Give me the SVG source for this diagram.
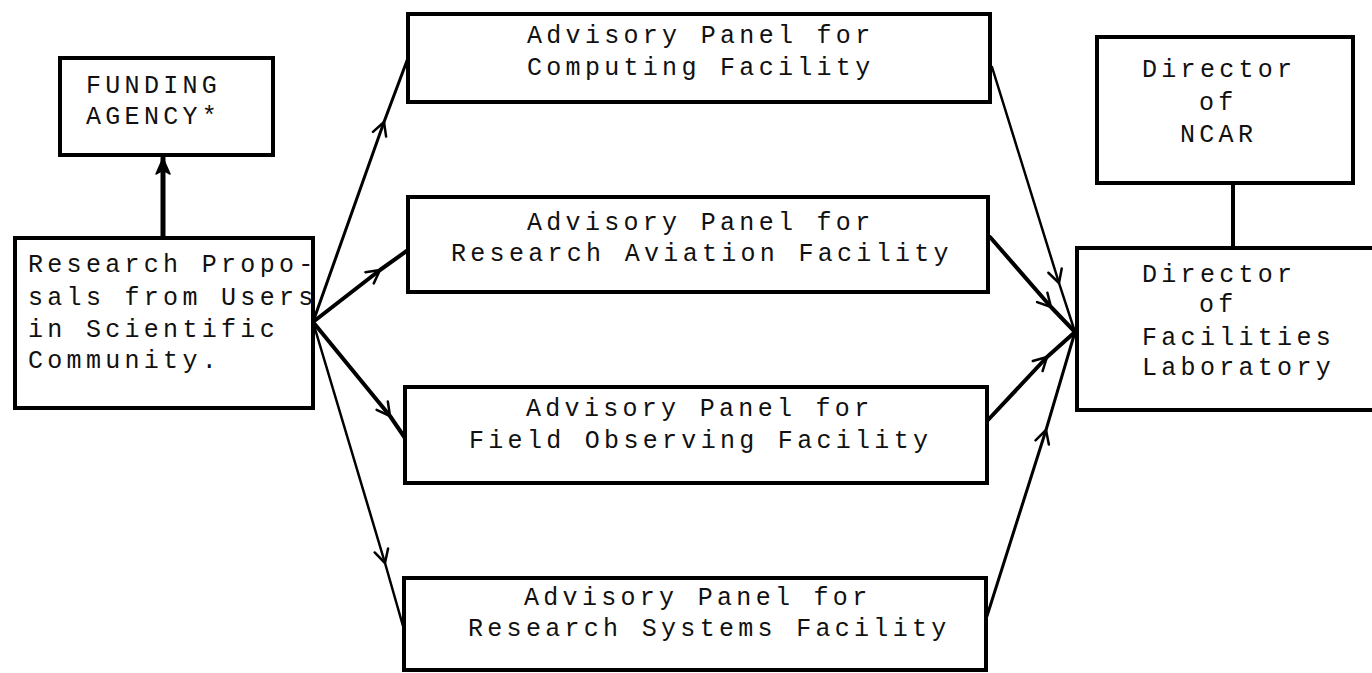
<svg xmlns="http://www.w3.org/2000/svg" width="1372" height="673" viewBox="0 0 1372 673">
<style>
.box{fill:#fff;stroke:#000;stroke-width:4}
.t{font-family:"Liberation Mono","DejaVu Sans Mono",monospace;font-size:25px;letter-spacing:4.3px;fill:#111}
.c{fill:none;stroke:#000;stroke-linecap:round;stroke-linejoin:round}
</style>
<defs>
<marker id="barb" markerUnits="userSpaceOnUse" markerWidth="30" markerHeight="30" refX="0" refY="0" orient="auto" overflow="visible">
<path d="M-13,-7 L0,0 L-13,7" fill="none" stroke="#000" stroke-width="2.5" stroke-linecap="round" stroke-linejoin="round"/>
</marker>
<marker id="solid" markerUnits="userSpaceOnUse" markerWidth="30" markerHeight="30" refX="0" refY="0" orient="auto" overflow="visible">
<path d="M-16,-7 L0,0 L-16,7 L-12,0 Z" fill="#000" stroke="#000" stroke-width="1.5" stroke-linejoin="round"/>
</marker>
</defs>
<rect width="1372" height="673" fill="#fff"/>
<g id="connectors">
<path class="c" d="M163,237 L163,158" stroke-width="5" marker-end="url(#solid)"/>
<path class="c" d="M313,322 L384,122 L408,58" stroke-width="3" marker-mid="url(#barb)"/>
<path class="c" d="M313,322 L380,270 L408,250" stroke-width="4" marker-mid="url(#barb)"/>
<path class="c" d="M313,322 L390,416 L405,438" stroke-width="4" marker-mid="url(#barb)"/>
<path class="c" d="M313,322 L385,563 L403,626" stroke-width="2.5" marker-mid="url(#barb)"/>
<path class="c" d="M992,67 L1059,283 L1075,332" stroke-width="2.5" marker-mid="url(#barb)"/>
<path class="c" d="M990,237 L1051,307 L1075,332" stroke-width="4" marker-mid="url(#barb)"/>
<path class="c" d="M988,420 L1047,357 L1075,332" stroke-width="4" marker-mid="url(#barb)"/>
<path class="c" d="M987,616 L1046,430 L1075,332" stroke-width="3" marker-mid="url(#barb)"/>
<path class="c" d="M1233,183 L1233,248" stroke-width="4"/>
</g>
<g id="funding">
<rect class="box" x="60" y="58" width="213" height="97"/>
<text class="t" x="86" y="93">FUNDING</text>
<text class="t" x="86" y="124">AGENCY*</text>
</g>
<g id="proposals">
<rect class="box" x="15" y="238" width="298" height="170"/>
<text class="t" x="28" y="272">Research Propo-</text>
<text class="t" x="28" y="305">sals from Users</text>
<text class="t" x="28" y="337">in Scientific</text>
<text class="t" x="28" y="368">Community.</text>
</g>
<g id="panel-computing">
<rect class="box" x="408" y="14" width="582" height="88"/>
<text class="t" x="527" y="43">Advisory Panel for</text>
<text class="t" x="527" y="75">Computing Facility</text>
</g>
<g id="panel-aviation">
<rect class="box" x="408" y="197" width="580" height="95"/>
<text class="t" x="527" y="230">Advisory Panel for</text>
<text class="t" x="451" y="261">Research Aviation Facility</text>
</g>
<g id="panel-field">
<rect class="box" x="405" y="387" width="582" height="96"/>
<text class="t" x="526" y="416">Advisory Panel for</text>
<text class="t" x="469" y="448">Field Observing Facility</text>
</g>
<g id="panel-systems">
<rect class="box" x="404" y="578" width="582" height="92"/>
<text class="t" x="524" y="605">Advisory Panel for</text>
<text class="t" x="468" y="636">Research Systems Facility</text>
</g>
<g id="director-ncar">
<rect class="box" x="1097" y="37" width="256" height="146"/>
<text class="t" x="1142" y="77">Director</text>
<text class="t" x="1199" y="110">of</text>
<text class="t" x="1180" y="142">NCAR</text>
</g>
<g id="director-facilities">
<rect class="box" x="1077" y="248" width="310" height="162"/>
<text class="t" x="1142" y="282">Director</text>
<text class="t" x="1199" y="312">of</text>
<text class="t" x="1142" y="345">Facilities</text>
<text class="t" x="1142" y="375">Laboratory</text>
</g>
</svg>
